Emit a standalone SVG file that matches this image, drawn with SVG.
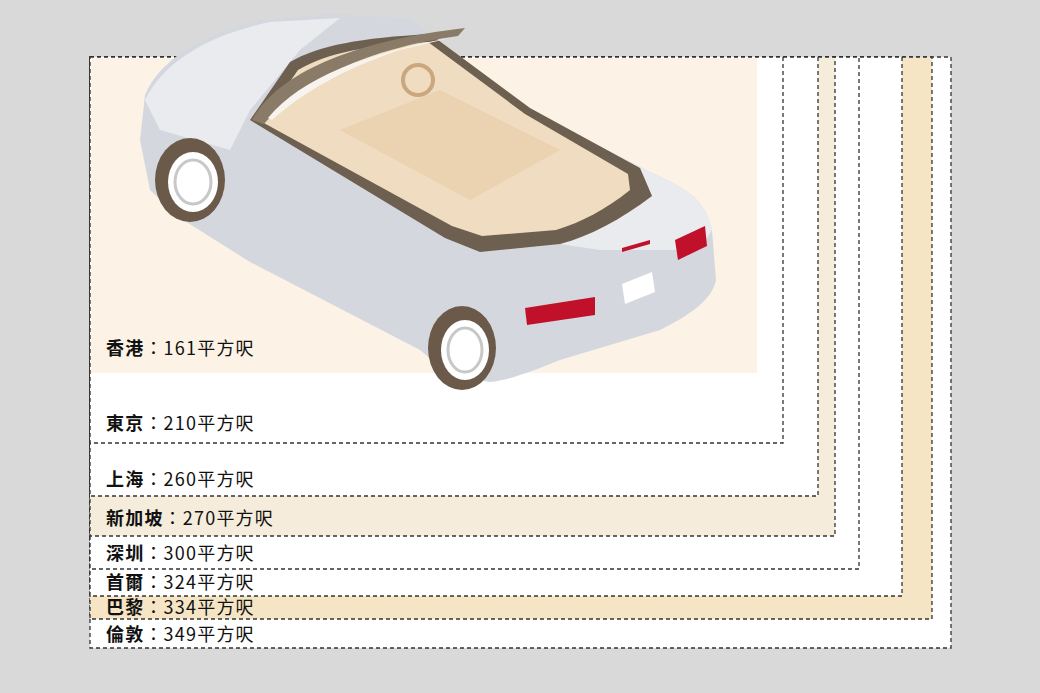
<svg xmlns="http://www.w3.org/2000/svg" width="1040" height="693" viewBox="0 0 1040 693">
<style>
.b{stroke:#333;stroke-width:1.3;stroke-dasharray:4 3}
.t{font-family:"Noto Sans CJK TC","Noto Sans",sans-serif;font-size:18px;fill:#111;letter-spacing:1.2px}
.c{font-weight:bold}
</style>
<rect width="1040" height="693" fill="#d9d9d9"/>
<g id="areas">
<rect id="london" x="90" y="57" width="861" height="591" fill="#fff" class="b"/>
<rect id="paris" x="90" y="57" width="842" height="562" fill="#f5e5c5" class="b"/>
<rect id="seoul" x="90" y="57" width="812" height="539" fill="#fff" class="b"/>
<rect id="shenzhen" x="90" y="57" width="769" height="512" fill="#fff" class="b"/>
<rect id="singapore" x="90" y="57" width="745" height="479" fill="#f5ecdc" class="b"/>
<rect id="shanghai" x="90" y="57" width="728" height="439" fill="#fff" class="b"/>
<rect id="tokyo" x="90" y="57" width="693" height="386" fill="#fff" class="b"/>
<rect id="hongkong" x="91" y="58" width="666" height="315" fill="#fcf3e6"/>
</g>
<g id="car">
<path d="M140,140 L145,95 C160,60 200,35 260,20 L330,14 L410,18 L520,105 L650,172 C690,190 705,200 712,230 L716,280 C712,300 690,315 660,330 L560,360 C530,372 510,380 490,382 L450,376 L420,350 L250,262 L180,218 L150,190 Z" fill="#d4d8de"/>
<path d="M145,100 C165,60 210,35 270,22 L340,18 L300,50 L250,110 L230,150 L160,130 Z" fill="#e9ebef"/>
<path d="M520,105 L650,172 C690,190 705,200 712,230 L700,250 L600,250 L560,244 L652,196 L640,168 Z" fill="#e9ebef"/>
<path d="M250,120 L290,62 C320,45 360,38 430,34 L530,108 L640,168 L652,196 C620,220 590,236 560,244 L480,252 L445,238 Z" fill="#6e6050"/>
<path d="M262,122 L298,70 C330,52 365,46 428,42 L525,114 L628,174 L630,190 C605,210 582,222 556,230 L482,236 L452,226 Z" fill="#f0dcc0"/>
<path d="M340,130 L440,90 L560,150 L470,200 Z" fill="#e8cba6" opacity="0.6"/>
<circle cx="418" cy="80" r="15" fill="none" stroke="#c9a87f" stroke-width="4"/>
<path d="M252,120 C280,70 360,40 465,28 L458,36 C370,48 300,80 264,124 Z" fill="#8a7a68"/>
<path d="M268,118 C300,78 370,52 450,38 L400,50 C340,70 300,95 272,120 Z" fill="#f7f3ee"/>
<ellipse cx="190" cy="180" rx="35" ry="42" fill="#6b5a4a"/>
<ellipse cx="193" cy="182" rx="25" ry="30" fill="#fff"/>
<ellipse cx="193" cy="182" rx="18" ry="22" fill="none" stroke="#c8c8c8" stroke-width="3"/>
<ellipse cx="462" cy="348" rx="34" ry="42" fill="#6b5a4a"/>
<ellipse cx="465" cy="350" rx="24" ry="30" fill="#fff"/>
<ellipse cx="465" cy="350" rx="17" ry="22" fill="none" stroke="#c8c8c8" stroke-width="3"/>
<path d="M525,308 L595,297 L595,315 L527,325 Z" fill="#c0102a"/>
<path d="M675,240 L705,226 L707,246 L678,260 Z" fill="#c0102a"/>
<path d="M622,248 L650,240 L650,244 L622,252 Z" fill="#c0102a"/>
<path d="M622,284 L652,272 L655,292 L625,304 Z" fill="#fff"/>
</g>
<g id="labels">
<text class="t" x="106" y="355"><tspan class="c">香港</tspan>：161平方呎</text>
<text class="t" x="106" y="430"><tspan class="c">東京</tspan>：210平方呎</text>
<text class="t" x="106" y="486"><tspan class="c">上海</tspan>：260平方呎</text>
<text class="t" x="106" y="525"><tspan class="c">新加坡</tspan>：270平方呎</text>
<text class="t" x="106" y="560"><tspan class="c">深圳</tspan>：300平方呎</text>
<text class="t" x="106" y="589"><tspan class="c">首爾</tspan>：324平方呎</text>
<text class="t" x="106" y="614"><tspan class="c">巴黎</tspan>：334平方呎</text>
<text class="t" x="106" y="641"><tspan class="c">倫敦</tspan>：349平方呎</text>
</g>
<g id="connectors"/>
</svg>
